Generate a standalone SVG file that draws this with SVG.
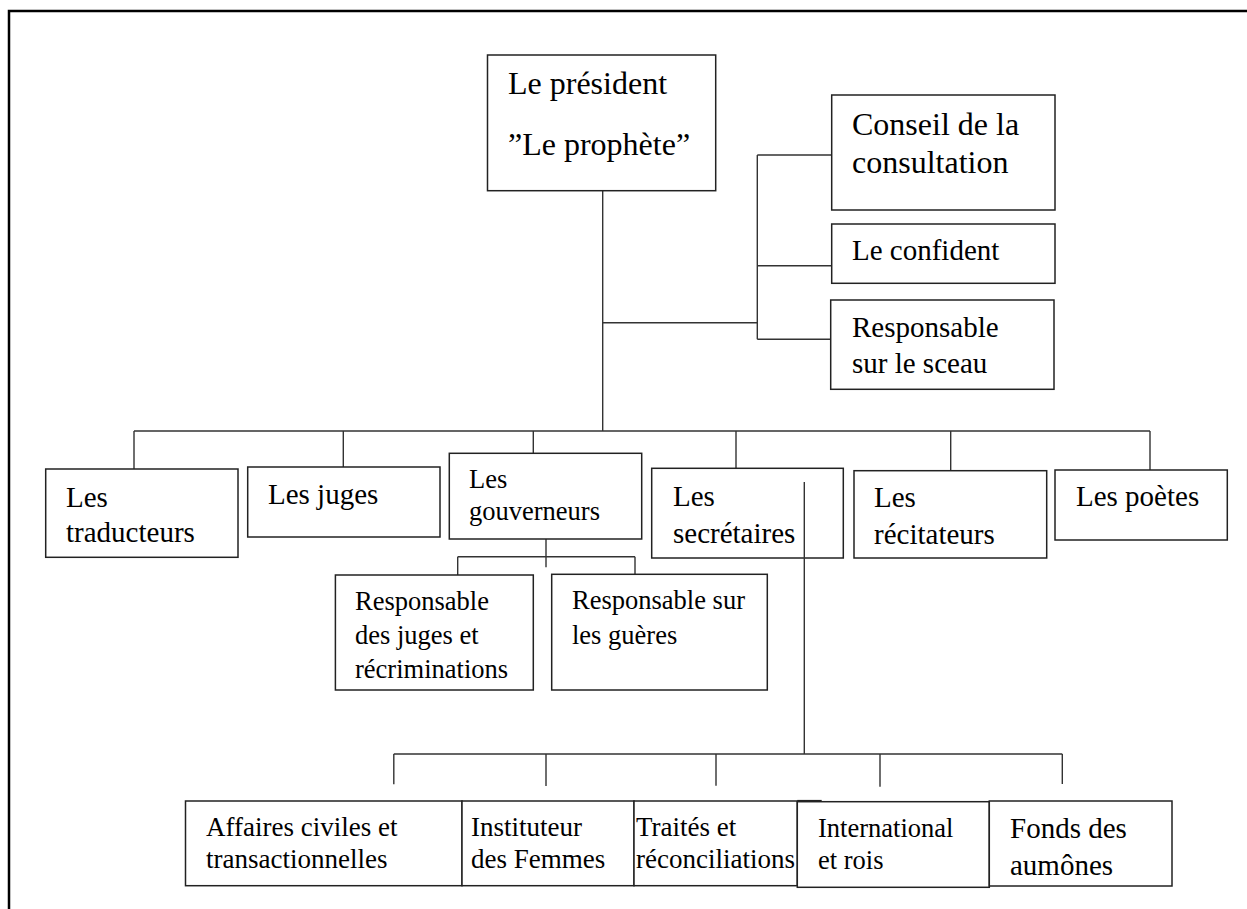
<svg xmlns="http://www.w3.org/2000/svg" width="1247" height="909" viewBox="0 0 1247 909">
<style>
.box{fill:#fff;stroke:#222;stroke-width:1.5}
.ln{fill:none;stroke:#333;stroke-width:1.4}
.frame{fill:none;stroke:#000;stroke-width:2.5}
text{font-family:"Liberation Serif","Times New Roman",serif;fill:#000}
.f32{font-size:32px}.f29{font-size:29px}.f27{font-size:27px}.f26{font-size:26.5px}
</style>
<rect width="1247" height="909" fill="#fff"/>
<path class="frame" d="M9,909 V11 H1247"/>
<g id="connectors">
<path class="ln" d="M602.7,191 V431 M602.7,322.7 H757.3 M757.3,155 V339.3 M757.3,155 H831.7 M757.3,265.7 H831.7 M757.3,339.3 H831.7"/>
<path class="ln" d="M134,431 H1150 M134,431 V469 M343.3,431 V467 M533.3,431 V453.3 M736,431 V468.3 M950.7,431 V470.7 M1150,431 V470"/>
<path class="ln" d="M546,539 V567.3 M457.7,556.7 H635 M457.7,556.7 V575 M635,556.7 V574.3"/>
<path class="ln" d="M393.8,754 H1062.3 M393.8,754 V784.3 M546,754 V786 M716,754 V785.7 M880,754 V786.7 M1062.3,754 V784"/>
</g>
<g id="president"><rect class="box" x="487.5" y="55" width="228.2" height="135.7"/><text class="f32" x="508" y="94">Le président</text><text class="f32" x="508" y="155">”Le prophète”</text></g>
<g id="conseil"><rect class="box" x="831.7" y="95" width="223.3" height="115"/><text class="f32" x="852" y="135">Conseil de la</text><text class="f32" x="852" y="173">consultation</text></g>
<g id="confident"><rect class="box" x="831.7" y="224" width="223.3" height="59.3"/><text class="f29" x="852" y="260">Le confident</text></g>
<g id="sceau"><rect class="box" x="830.7" y="300" width="223.3" height="89.3"/><text class="f29" x="852" y="337">Responsable</text><text class="f29" x="852" y="373">sur le sceau</text></g>
<g id="traducteurs"><rect class="box" x="45.7" y="469" width="192.3" height="88.3"/><text class="f29" x="66" y="507">Les</text><text class="f29" x="66" y="542">traducteurs</text></g>
<g id="juges"><rect class="box" x="247.7" y="467" width="192.3" height="70"/><text class="f29" x="268" y="504">Les juges</text></g>
<g id="gouverneurs"><rect class="box" x="449.3" y="453.3" width="192.4" height="85.7"/><text class="f26" x="469" y="488">Les</text><text class="f26" x="469" y="520">gouverneurs</text></g>
<g id="secretaires"><rect class="box" x="651.7" y="468.3" width="191.6" height="89.7"/><text class="f29" x="673" y="506">Les</text><text class="f29" x="673" y="543">secrétaires</text></g>
<g id="recitateurs"><rect class="box" x="854" y="470.7" width="192.7" height="87.3"/><text class="f29" x="874" y="507">Les</text><text class="f29" x="874" y="544">récitateurs</text></g>
<g id="poetes"><rect class="box" x="1055" y="470" width="172.3" height="70"/><text class="f29" x="1076" y="506">Les poètes</text></g>
<g id="resp-juges"><rect class="box" x="335.4" y="575" width="197.9" height="115"/><text class="f26" x="355" y="610">Responsable</text><text class="f26" x="355" y="644">des juges et</text><text class="f26" x="355" y="678">récriminations</text></g>
<g id="resp-gueres"><rect class="box" x="551.7" y="574.3" width="215.6" height="115.7"/><text class="f26" x="572" y="609">Responsable sur</text><text class="f26" x="572" y="644">les guères</text></g>
<g id="secretaires-line"><path class="ln" d="M804.3,482 V754"/></g>
<g id="affaires"><rect class="box" x="185.5" y="801" width="276.5" height="84.7"/><text class="f27" x="206" y="836">Affaires civiles et</text><text class="f27" x="206" y="868">transactionnelles</text></g>
<g id="instituteur"><rect class="box" x="462" y="801" width="172" height="84.7"/><text class="f27" x="471" y="836">Instituteur</text><text class="f27" x="471" y="868">des Femmes</text></g>
<g id="traites"><rect class="box" x="634" y="801" width="163.3" height="84.7"/><path d="M797.3,801 H821.7" stroke="#222" stroke-width="2.2"/><text class="f27" x="636" y="836">Traités et</text><text class="f27" x="636" y="868">réconciliations</text></g>
<g id="international"><rect class="box" x="797.3" y="801.7" width="192" height="85.6"/><text class="f26" x="818" y="837">International</text><text class="f26" x="818" y="869">et rois</text></g>
<g id="fonds"><rect class="box" x="989.3" y="801" width="182.7" height="85"/><text class="f29" x="1010" y="838">Fonds des</text><text class="f29" x="1010" y="875">aumônes</text></g>
</svg>
